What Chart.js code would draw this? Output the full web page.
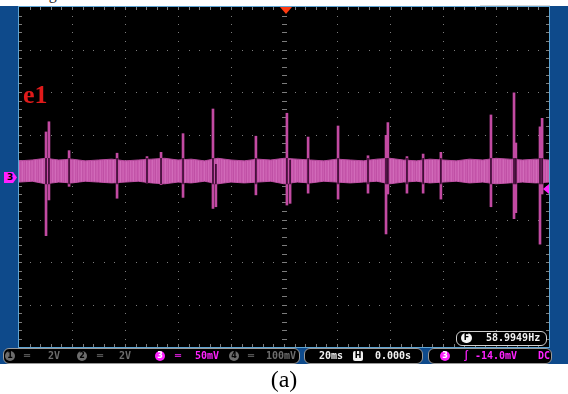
<!DOCTYPE html>
<html>
<head>
<meta charset="utf-8">
<script src="https://cdn.jsdelivr.net/npm/chart.js@4.4.1/dist/chart.umd.min.js"></script>
<style>
  html, body { margin: 0; padding: 0; }
  body { width: 568px; height: 394px; background: #fff; position: relative; overflow: hidden; }
  .abs { position: absolute; }
  #topText { left: 2px; top: -15px; font: 16px "Liberation Serif", serif; color: #222; white-space: nowrap; }
  #frame { left: 0; top: 6px; width: 568px; height: 358px; background: #0e4a8b; }
  #topLine { left: 480px; top: 5px; width: 70px; height: 1px; background: #d8d8d8; }
  #screenBorder { left: 18px; top: 6px; width: 530px; height: 340px; border: 1px solid #5da4d4; background: #000; }
  #scope { left: 19px; top: 7px; }
  #e1 { left: 23px; top: 82px; font: bold 26px "Liberation Serif", serif; line-height: 1; color: #e01a1a; }
  #ch3mark { left: 4px; top: 172px; width: 13px; height: 11px; background: #ff20ff; color: #000;
             font: bold 9px "DejaVu Sans", sans-serif; line-height: 11px; text-indent: 3px;
             clip-path: polygon(0 0, 70% 0, 100% 50%, 70% 100%, 0 100%); }
  .box { top: 348px; height: 14px; border: 1px solid #9a9a9a; border-radius: 6px; background: #000; }
  .t { top: 349px; font: bold 10px "DejaVu Sans Mono", monospace; line-height: 14px; white-space: nowrap; }
  .dim { color: #6c6c6c; }
  .mag { color: #ff22ff; }
  .wht { color: #f0f0f0; }
  .ico { width: 10px; height: 10px; border-radius: 50%; top: 351px; font: bold 8px "DejaVu Sans", sans-serif;
         line-height: 10px; text-align: center; color: #000; }
  #freqBox { left: 456px; top: 331px; width: 89px; height: 13px; border: 1px solid #d0d0d0; border-radius: 6px; background: #000; }
  #freqIco { left: 461px; top: 333px; width: 11px; height: 10px; border-radius: 5px; background: #f4f4f4; color: #000;
             font: bold 8px "DejaVu Sans", sans-serif; line-height: 10px; text-align: center; }
  #freqTxt { left: 486px; top: 331px; font: bold 10px "DejaVu Sans Mono", monospace; line-height: 14px; color: #f0f0f0; }
  #caption { left: 0; top: 367px; width: 568px; text-align: center; font: 24px "Liberation Serif", serif; line-height: 1; color: #000; }
</style>
</head>
<body>
<div class="abs" id="topText">r Photog tal.</div>
<div class="abs" id="frame"></div>
<div class="abs" id="topLine"></div>
<div class="abs" id="screenBorder"></div>
<canvas class="abs" id="scope" width="530" height="340"></canvas>
<div class="abs" id="e1">e1</div>
<div class="abs" id="ch3mark">3</div>

<div class="abs" id="freqBox"></div>
<div class="abs" id="freqIco">F</div>
<div class="abs" id="freqTxt">58.9949Hz</div>

<div class="abs box" style="left:3px;width:295px"></div>
<div class="abs box" style="left:304px;width:117px"></div>
<div class="abs box" style="left:428px;width:122px"></div>

<div class="abs ico" style="left:5px;background:#6c6c6c">1</div>
<div class="abs t dim" style="left:24px">═</div>
<div class="abs t dim" style="left:48px">2V</div>
<div class="abs ico" style="left:77px;background:#6c6c6c">2</div>
<div class="abs t dim" style="left:97px">═</div>
<div class="abs t dim" style="left:119px">2V</div>
<div class="abs ico" style="left:155px;background:#ff22ff;color:#fff">3</div>
<div class="abs t mag" style="left:175px">═</div>
<div class="abs t mag" style="left:195px">50mV</div>
<div class="abs ico" style="left:229px;background:#6c6c6c">4</div>
<div class="abs t dim" style="left:248px">═</div>
<div class="abs t dim" style="left:266px">100mV</div>

<div class="abs t wht" style="left:319px">20ms</div>
<div class="abs ico" style="left:353px;border-radius:2px;background:#f0f0f0">H</div>
<div class="abs t wht" style="left:375px">0.000s</div>

<div class="abs ico" style="left:440px;background:#ff22ff;color:#fff">3</div>
<div class="abs t mag" style="left:463px">∫</div>
<div class="abs t mag" style="left:475px">-14.0mV</div>
<div class="abs t mag" style="left:538px">DC</div>

<div class="abs" id="caption">(a)</div>

<script>
// time base: 20 ms/div, 10 div; channel 3: 50 mV/div, 8 div
const bandTimes = [-100, -95, -90, -85, -80, -75, -70, -65, -60, -55, -50, -45, -40, -35, -30, -25, -20, -15, -10, -5,
  0, 5, 10, 15, 20, 25, 30, 35, 40, 45, 50, 55, 60, 65, 70, 75, 80, 85, 90, 95, 100];
const bandUpper = [19, 20, 22, 20, 21, 19, 20, 21, 19, 20, 21, 22, 20, 21, 19, 22, 20, 19, 21, 20,
  22, 21, 20, 19, 21, 20, 19, 21, 22, 20, 19, 21, 20, 19, 21, 20, 22, 21, 20, 21, 20];
const bandLower = [-6, -5, -8, -6, -7, -5, -6, -7, -6, -5, -7, -8, -6, -7, -5, -8, -6, -7, -6, -5,
  -8, -6, -7, -5, -6, -7, -6, -5, -8, -6, -5, -7, -6, -5, -7, -6, -8, -7, -6, -7, -6];

// glitches (ms) with their peak and trough (mV)
const spikeTimes = [-89.8, -88.7, -81.1, -63.0, -51.7, -46.4, -38.1, -26.8, -25.7, -10.6, 1.1, 2.3, 9.1, 20.4,
  31.7, 38.5, 39.2, 46.4, 52.5, 59.2, 78.1, 86.8, 87.5, 96.6, 97.4];
const spikeHigh = [53, 65, 31, 28, 24, 29, 51, 80, 15, 48, 75, 20, 47, 60, 25, 49, 64, 24, 27, 29, 73, 99, 40, 59, 69];
const spikeLow = [-69, -27, -11, -25, -7, -9, -24, -37, -35, -21, -33, -31, -19, -26, -19, -67, -20, -19, -19, -26,
  -35, -49, -42, -79, -20];

const triggerLevel = -14.0;
const triggerTime = 0;

// striped fill so the band looks like a dense trace
function bandPattern() {
  const cols = ['#cc60b2', '#c252a8', '#c95bae', '#d068b8', '#c455aa', '#cb5eb0', '#bf50a5', '#cf66b6', '#c658ac',
    '#c85aae', '#d26bba', '#c154a7', '#ca5daf'];
  const c = document.createElement('canvas');
  c.width = cols.length; c.height = 4;
  const g = c.getContext('2d');
  cols.forEach((col, i) => { g.fillStyle = col; g.fillRect(i, 0, 1, 4); });
  return g.createPattern(c, 'repeat');
}

const scopeGrid = {
  id: 'scopeGrid',
  beforeDatasetsDraw(chart) {
    const ctx = chart.ctx, xs = chart.scales.x, ys = chart.scales.y;
    const a = chart.chartArea;
    const cx = Math.round(xs.getPixelForValue(0)), cy = Math.round(ys.getPixelForValue(0));
    ctx.save();
    ctx.fillStyle = '#7c7c7c';
    for (let t = -80; t <= 80; t += 20) {
      const px = Math.round(xs.getPixelForValue(t));
      for (let v = -190; v <= 190; v += 10) ctx.fillRect(px, Math.round(ys.getPixelForValue(v)), 1, 1);
    }
    for (let v = -150; v <= 150; v += 50) {
      const py = Math.round(ys.getPixelForValue(v));
      for (let t = -96; t <= 96; t += 4) ctx.fillRect(Math.round(xs.getPixelForValue(t)), py, 1, 1);
    }
    // minor ticks on the centre cross and on the edges
    for (let t = -96; t <= 96; t += 4) {
      const px = Math.round(xs.getPixelForValue(t));
      ctx.fillRect(px, cy - 2, 1, 5);
      ctx.fillRect(px, a.top, 1, 3);
      ctx.fillRect(px, a.bottom - 3, 1, 3);
    }
    for (let v = -190; v <= 190; v += 10) {
      const py = Math.round(ys.getPixelForValue(v));
      ctx.fillRect(cx - 2, py, 5, 1);
      ctx.fillRect(a.left, py, 3, 1);
      ctx.fillRect(a.right - 3, py, 3, 1);
    }
    ctx.restore();
  },
  afterDatasetsDraw(chart) {
    const ctx = chart.ctx, xs = chart.scales.x, ys = chart.scales.y;
    const a = chart.chartArea;
    const tx = xs.getPixelForValue(triggerTime) + 2;
    ctx.save();
    ctx.fillStyle = '#ff3a10';
    ctx.beginPath();
    ctx.moveTo(tx - 6, a.top); ctx.lineTo(tx + 6, a.top); ctx.lineTo(tx, a.top + 7); ctx.closePath();
    ctx.fill();
    const ty = ys.getPixelForValue(triggerLevel);
    ctx.fillStyle = '#ff22ff';
    ctx.beginPath();
    ctx.moveTo(a.right, ty - 5); ctx.lineTo(a.right, ty + 5); ctx.lineTo(a.right - 6, ty); ctx.closePath();
    ctx.fill();
    ctx.restore();
  }
};

const bandTop = 22, bandBottom = -8;
const spikeData = spikeTimes.map((t, i) => ({ x: t, y: [spikeLow[i], spikeHigh[i]] }));
const coreData = spikeTimes.map((t, i) => ({
  x: t, y: [Math.max(spikeLow[i], bandBottom), Math.min(spikeHigh[i], bandTop)]
}));

new Chart(document.getElementById('scope'), {
  data: {
    datasets: [
      {
        type: 'line', label: 'band top', order: 3,
        data: bandTimes.map((t, i) => ({ x: t, y: bandUpper[i] })),
        borderColor: '#b84a9e', borderWidth: 1, pointRadius: 0, tension: 0,
        backgroundColor: bandPattern(), fill: '+1'
      },
      {
        type: 'line', label: 'band bottom', order: 3,
        data: bandTimes.map((t, i) => ({ x: t, y: bandLower[i] })),
        borderColor: '#b84a9e', borderWidth: 1, pointRadius: 0, tension: 0, fill: false
      },
      {
        type: 'bar', label: 'glitch', order: 2, grouped: false,
        data: spikeData, backgroundColor: '#c24aa2', barThickness: 2
      },
      {
        type: 'bar', label: 'glitch core', order: 1, grouped: false,
        data: coreData, backgroundColor: '#3a0c32', barThickness: 1
      }
    ]
  },
  options: {
    responsive: false,
    animation: false,
    layout: { padding: 0 },
    scales: {
      x: { type: 'linear', min: -100, max: 100, offset: false, display: false },
      y: { type: 'linear', min: -200, max: 200, display: false }
    },
    plugins: { legend: { display: false }, tooltip: { enabled: false } }
  },
  plugins: [scopeGrid]
});
</script>
</body>
</html>
